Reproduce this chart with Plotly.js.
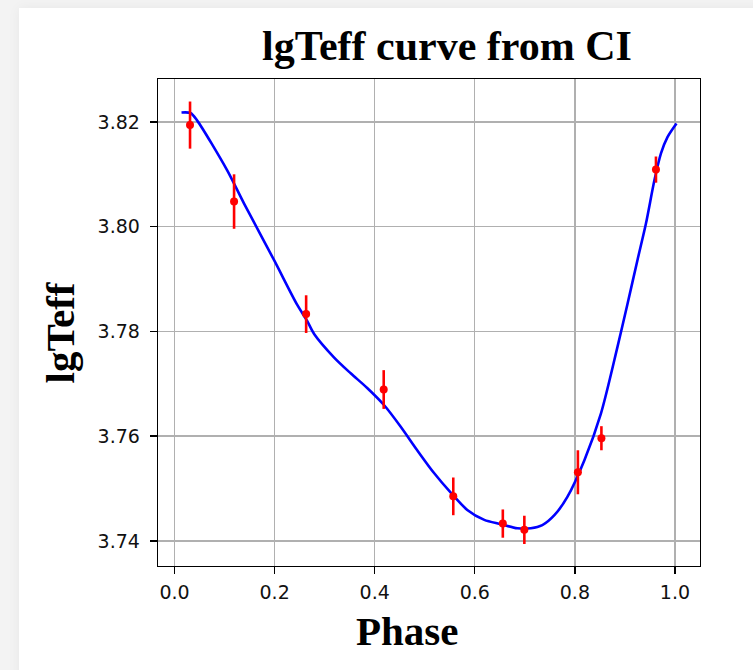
<!DOCTYPE html>
<html>
<head>
<meta charset="utf-8">
<script src="https://cdn.plot.ly/plotly-3.0.1.min.js"></script>
<style>
  html, body { margin: 0; padding: 0; width: 753px; height: 670px; overflow: hidden; background: #f3f3f3; }
  #card { position: absolute; left: 19px; top: 8px; width: 760px; height: 680px; background: #ffffff; box-shadow: 0 0 12px rgba(0,0,0,0.05); }
  #chart { position: absolute; left: 0; top: 0; width: 753px; height: 670px; }
</style>
</head>
<body>
<div id="card"></div>
<div id="chart"></div>
<script>
// Observed points (phase, lgTeff, error)
const obsPhase = [0.031, 0.119, 0.263, 0.418, 0.557, 0.656, 0.699, 0.806, 0.853, 0.962];
const obsLgTeff = [3.8194, 3.8048, 3.7833, 3.7689, 3.7485, 3.7433, 3.7421, 3.7531, 3.7596, 3.8109];
const obsErr = [0.0045, 0.0052, 0.0036, 0.0037, 0.0036, 0.0027, 0.0027, 0.0042, 0.0023, 0.0025];

// Fitted curve
const curvePhase = [0.014, 0.032, 0.045, 0.105, 0.139, 0.199, 0.245, 0.265, 0.279, 0.319, 0.352, 0.385, 0.419, 0.452, 0.485, 0.519, 0.552, 0.585, 0.619, 0.652, 0.685, 0.712, 0.735, 0.759, 0.785, 0.819, 0.852, 0.885, 0.905, 0.925, 0.942, 0.959, 0.972, 0.985, 1.003];
const curveLgTeff = [3.8218, 3.8217, 3.8203, 3.8108, 3.8044, 3.7936, 3.7851, 3.7820, 3.7795, 3.7750, 3.7720, 3.7692, 3.7659, 3.7618, 3.7573, 3.7529, 3.7492, 3.7459, 3.7440, 3.7432, 3.7424, 3.7424, 3.7430, 3.7449, 3.7484, 3.7554, 3.7643, 3.7770, 3.7852, 3.7936, 3.8006, 3.8089, 3.8140, 3.8171, 3.8197];

const xTicks = [0.0, 0.2, 0.4, 0.6, 0.8, 1.0];
const xTickText = ['0.0', '0.2', '0.4', '0.6', '0.8', '1.0'];
const yTicks = [3.74, 3.76, 3.78, 3.80, 3.82];
const yTickText = ['3.74', '3.76', '3.78', '3.80', '3.82'];

const titleText = 'lgTeff curve from CI';
const xLabel = 'Phase';
const yLabel = 'lgTeff';

const serifBold = { family: '"Liberation Serif", "Times New Roman", serif', size: 41, color: '#000000', weight: 'bold' };
const titleFont = Object.assign({}, serifBold, { size: 42 });

const traces = [
  {
    x: curvePhase, y: curveLgTeff, type: 'scatter', mode: 'lines',
    line: { color: '#0000ff', width: 2.6, shape: 'spline', smoothing: 0.8 },
    hoverinfo: 'skip', showlegend: false
  },
  {
    x: obsPhase, y: obsLgTeff, type: 'scatter', mode: 'markers',
    marker: { color: '#ff0000', size: 8 },
    error_y: { type: 'data', array: obsErr, visible: true, color: '#ff0000', thickness: 2.6, width: 0 },
    showlegend: false
  }
];

const axisCommon = {
  showline: true, linecolor: '#000000', linewidth: 1.3, mirror: true,
  ticks: 'outside', ticklen: 7, tickwidth: 1.3, tickcolor: '#000000',
  showgrid: true, gridcolor: '#b0b0b0', gridwidth: 1.3,
  zeroline: false,
  tickfont: { family: '"DejaVu Sans", sans-serif', size: 19, color: '#111111' }
};

const layout = {
  width: 753, height: 670,
  paper_bgcolor: 'rgba(0,0,0,0)', plot_bgcolor: '#ffffff',
  margin: { l: 158, r: 53, t: 79, b: 104, pad: 0 },
  title: { text: titleText, font: titleFont, xref: 'container', yref: 'container', x: 447 / 753, y: 1 - 45 / 670, xanchor: 'center', yanchor: 'middle' },
  xaxis: Object.assign({}, axisCommon, { range: [-0.033, 1.05], tickvals: xTicks, ticktext: xTickText, ticklabelstandoff: 2 }),
  yaxis: Object.assign({}, axisCommon, { range: [3.7352, 3.8282], tickvals: yTicks, ticktext: yTickText, ticklabelstandoff: 6 }),
  annotations: [
    { text: xLabel, xref: 'paper', yref: 'paper', x: (407 - 158) / 542, y: -(631 - 566) / 487, xanchor: 'center', yanchor: 'middle', showarrow: false, font: serifBold },
    { text: yLabel, xref: 'paper', yref: 'paper', x: -(158 - 59) / 542, y: (566 - 332.5) / 487, xanchor: 'center', yanchor: 'middle', textangle: -90, showarrow: false, font: serifBold }
  ]
};

Plotly.newPlot('chart', traces, layout, { displayModeBar: false, staticPlot: true });
</script>
</body>
</html>
